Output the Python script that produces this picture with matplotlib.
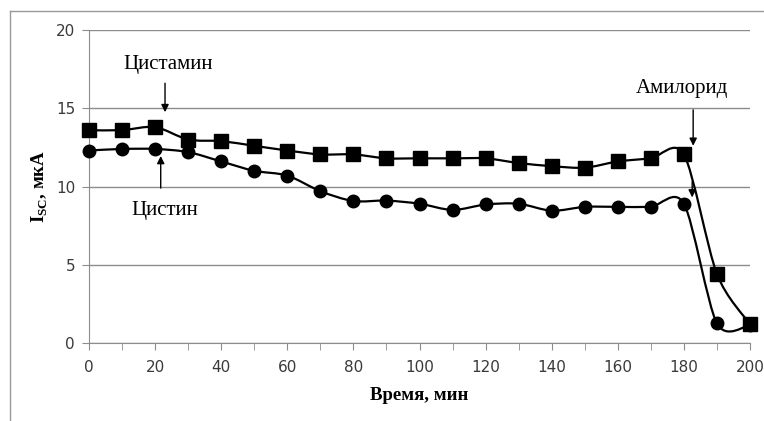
import numpy as np
import matplotlib.pyplot as plt
from matplotlib.path import Path
from matplotlib.patches import PathPatch
from matplotlib.lines import Line2D

# time points, min
time = [0, 10, 20, 30, 40, 50, 60, 70, 80, 90, 100, 110, 120, 130, 140,
        150, 160, 170, 180, 190, 200]
# Isc, uA
cystamine = [13.6, 13.6, 13.8, 13.0, 12.9, 12.6, 12.3, 12.05, 12.05, 11.8, 11.8,
             11.8, 11.8, 11.5, 11.3, 11.2, 11.6, 11.8, 12.05, 4.4, 1.2]
cystine = [12.3, 12.4, 12.4, 12.2, 11.6, 11.0, 10.7, 9.7, 9.07, 9.1, 8.9,
           8.5, 8.85, 8.9, 8.45, 8.7, 8.7, 8.7, 8.9, 1.25, 1.15]

x_ticks = [0, 20, 40, 60, 80, 100, 120, 140, 160, 180, 200]
y_ticks = [0, 5, 10, 15, 20]

plt.rcParams['mathtext.fontset'] = 'custom'
plt.rcParams['mathtext.bf'] = 'Liberation Serif:bold'
plt.rcParams['mathtext.rm'] = 'Liberation Serif:bold'


def smooth_path(xs, ys, k=1 / 7):
    # excel-like smoothed line: cubic bezier through the points
    p = np.column_stack([xs, ys]).astype(float)
    n = len(p)
    verts = [p[0]]
    codes = [Path.MOVETO]
    for i in range(n - 1):
        p0 = p[i - 1] if i > 0 else p[i]
        p1, p2 = p[i], p[i + 1]
        p3 = p[i + 2] if i + 2 < n else p[i + 1]
        c1 = p1 + (p2 - p0) * k
        c2 = p2 - (p3 - p1) * k
        verts += [c1, c2, p2]
        codes += [Path.CURVE4] * 3
    return Path(verts, codes)


fig = plt.figure(figsize=(7.64, 4.21), dpi=100)
ax = fig.add_axes([0.1165, 0.1853, 0.8652, 0.7434])

grid_c = '#8c8c8c'
for series, mk, ms in [(cystamine, 's', 10), (cystine, 'o', 9)]:
    ax.add_patch(PathPatch(smooth_path(time, series), fill=False,
                           lw=1.6, edgecolor='black', zorder=3))
    ax.plot(time, series, linestyle='none', marker=mk, ms=ms,
            color='black', zorder=4, clip_on=False)

ax.set_xlim(0, 200)
ax.set_ylim(0, 20)
ax.set_xticks(x_ticks)
ax.set_xticks(range(0, 201, 10), minor=True)
ax.set_yticks(y_ticks)
ax.yaxis.grid(True, color=grid_c, lw=1)
ax.set_axisbelow(True)
for s in ['top', 'right']:
    ax.spines[s].set_visible(False)
for s in ['left', 'bottom']:
    ax.spines[s].set_color(grid_c)
ax.tick_params(axis='both', which='both', color=grid_c, length=5,
               labelsize=11, labelcolor='#3a3a3a')
ax.tick_params(axis='x', pad=7)
ax.tick_params(axis='y', pad=5)

ax.set_xlabel('Время, мин', family='Liberation Serif', weight='bold',
              fontsize=13.5, labelpad=9)
ax.set_ylabel(r'I$_{\mathrm{SC}}$, мкА', family='Liberation Serif',
              weight='bold', fontsize=13.5, labelpad=4)

txt = dict(family='Liberation Serif', fontsize=15, ha='center', va='center')
arr = dict(arrowstyle='-|>', color='black', lw=1, mutation_scale=11,
           shrinkA=0, shrinkB=0)
ax.text(24, 17.8, 'Цистамин', **txt)
ax.annotate('', xy=(23, 14.75), xytext=(23, 16.6), arrowprops=arr)
ax.text(23, 8.45, 'Цистин', **txt)
ax.annotate('', xy=(21.7, 11.95), xytext=(21.7, 9.9), arrowprops=arr)
ax.text(179.5, 16.25, 'Амилорид', **txt)
ax.annotate('', xy=(182.8, 12.6), xytext=(182.8, 14.9), arrowprops=arr)
ax.annotate('', xy=(182.5, 9.3), xytext=(182.5, 10.3), arrowprops=arr)

# outer chart frame (only top and left are visible)
fig.add_artist(Line2D([10 / 764, 10 / 764], [0, 1 - 11 / 421], color='#999999', lw=1))
fig.add_artist(Line2D([10 / 764, 1], [1 - 11 / 421, 1 - 11 / 421], color='#999999', lw=1))

fig.savefig('out.png', dpi=100)
